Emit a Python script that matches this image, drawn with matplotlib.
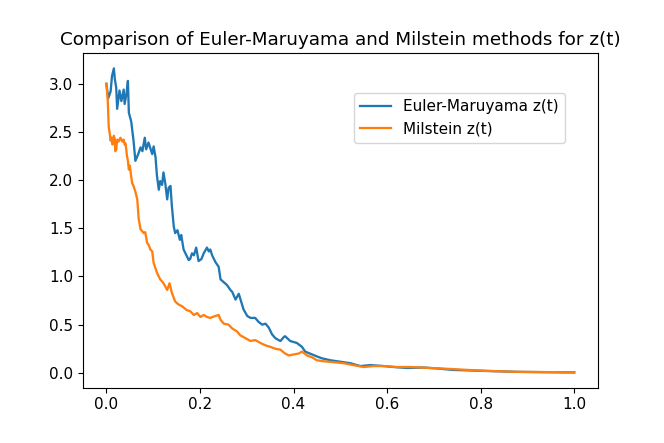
import matplotlib
matplotlib.use("Agg")
import matplotlib.pyplot as plt

# Euler-Maruyama path
t_em = [0.000, 0.004, 0.009, 0.012, 0.016, 0.018, 0.021, 0.023, 0.028, 0.032,
        0.037, 0.039, 0.043, 0.046, 0.048, 0.053, 0.058, 0.062, 0.068, 0.073,
        0.077, 0.082, 0.085, 0.090, 0.098, 0.101, 0.105, 0.108, 0.112, 0.115,
        0.119, 0.122, 0.126, 0.130, 0.133, 0.137, 0.140, 0.144, 0.147, 0.152,
        0.157, 0.160, 0.165, 0.172, 0.176, 0.179, 0.183, 0.187, 0.192, 0.197,
        0.203, 0.208, 0.215, 0.219, 0.222, 0.226, 0.233, 0.240, 0.244, 0.251,
        0.258, 0.265, 0.269, 0.276, 0.283, 0.288, 0.293, 0.301, 0.308, 0.318,
        0.325, 0.333, 0.340, 0.347, 0.354, 0.361, 0.368, 0.372, 0.379, 0.382,
        0.393, 0.407, 0.418, 0.425, 0.440, 0.450, 0.461, 0.479, 0.500, 0.521,
        0.543, 0.564, 0.593, 0.614, 0.643, 0.678, 0.707, 0.741, 0.806, 0.878,
        0.949, 1.000]
z_em = [3.00, 2.85, 2.92, 3.08, 3.16, 3.05, 2.96, 2.74, 2.93, 2.82,
        2.94, 2.79, 2.90, 3.03, 2.70, 2.61, 2.41, 2.20, 2.27, 2.34,
        2.30, 2.44, 2.32, 2.39, 2.27, 2.35, 2.24, 2.05, 1.90, 1.99,
        1.95, 2.08, 1.96, 1.80, 1.92, 1.94, 1.73, 1.52, 1.45, 1.48,
        1.38, 1.43, 1.28, 1.21, 1.17, 1.18, 1.24, 1.22, 1.30, 1.16,
        1.18, 1.24, 1.30, 1.26, 1.28, 1.22, 1.15, 1.10, 0.97, 0.94,
        0.91, 0.86, 0.84, 0.76, 0.82, 0.74, 0.66, 0.59, 0.57, 0.57,
        0.53, 0.50, 0.51, 0.47, 0.40, 0.36, 0.34, 0.33, 0.37, 0.38,
        0.33, 0.31, 0.27, 0.22, 0.19, 0.17, 0.15, 0.13, 0.115, 0.10,
        0.07, 0.08, 0.07, 0.06, 0.05, 0.055, 0.045, 0.03, 0.02, 0.01,
        0.006, 0.004]

# Milstein path
t_mil = [0.000, 0.003, 0.005, 0.007, 0.009, 0.011, 0.013, 0.016, 0.018, 0.019,
         0.021, 0.023, 0.026, 0.030, 0.034, 0.037, 0.039, 0.041, 0.044, 0.046,
         0.048, 0.050, 0.053, 0.055, 0.058, 0.062, 0.066, 0.069, 0.073, 0.080,
         0.083, 0.087, 0.090, 0.094, 0.098, 0.101, 0.108, 0.115, 0.122, 0.130,
         0.135, 0.140, 0.147, 0.154, 0.162, 0.172, 0.179, 0.187, 0.194, 0.201,
         0.208, 0.215, 0.222, 0.233, 0.240, 0.244, 0.251, 0.261, 0.269, 0.279,
         0.286, 0.297, 0.308, 0.318, 0.333, 0.343, 0.350, 0.361, 0.372, 0.382,
         0.390, 0.400, 0.411, 0.418, 0.429, 0.440, 0.450, 0.464, 0.486, 0.507,
         0.528, 0.550, 0.571, 0.593, 0.621, 0.650, 0.692, 0.735, 0.771, 0.813,
         0.878, 0.949, 1.000]
z_mil = [3.00, 2.82, 2.55, 2.49, 2.41, 2.44, 2.37, 2.46, 2.42, 2.30,
         2.32, 2.42, 2.40, 2.44, 2.40, 2.42, 2.37, 2.38, 2.25, 2.20,
         2.11, 2.15, 2.04, 1.97, 1.94, 1.88, 1.80, 1.60, 1.49, 1.45,
         1.46, 1.35, 1.33, 1.28, 1.26, 1.14, 1.04, 0.97, 0.93, 0.86,
         0.93, 0.83, 0.74, 0.71, 0.69, 0.65, 0.64, 0.60, 0.62, 0.58,
         0.60, 0.58, 0.57, 0.59, 0.60, 0.55, 0.51, 0.50, 0.46, 0.43,
         0.39, 0.36, 0.33, 0.34, 0.30, 0.28, 0.27, 0.25, 0.24, 0.20,
         0.18, 0.19, 0.20, 0.22, 0.18, 0.16, 0.13, 0.12, 0.11, 0.10,
         0.08, 0.06, 0.07, 0.07, 0.06, 0.06, 0.05, 0.04, 0.03, 0.02,
         0.01, 0.007, 0.004]

plt.rcParams["font.size"] = 11
plt.rcParams["lines.linewidth"] = 1.65

fig = plt.figure(figsize=(6.64, 4.43), dpi=100)
ax = fig.add_subplot(111)
fig.subplots_adjust(left=0.125, right=0.9, top=0.88, bottom=0.125)

ax.plot(t_em, z_em, label="Euler-Maruyama z(t)")
ax.plot(t_mil, z_mil, label="Milstein z(t)")

ax.set_title("Comparison of Euler-Maruyama and Milstein methods for z(t)", fontsize=13.2)
ax.legend(loc="upper right", bbox_to_anchor=(0.936, 0.881), borderaxespad=0)

fig.savefig("out.png", dpi=100)
